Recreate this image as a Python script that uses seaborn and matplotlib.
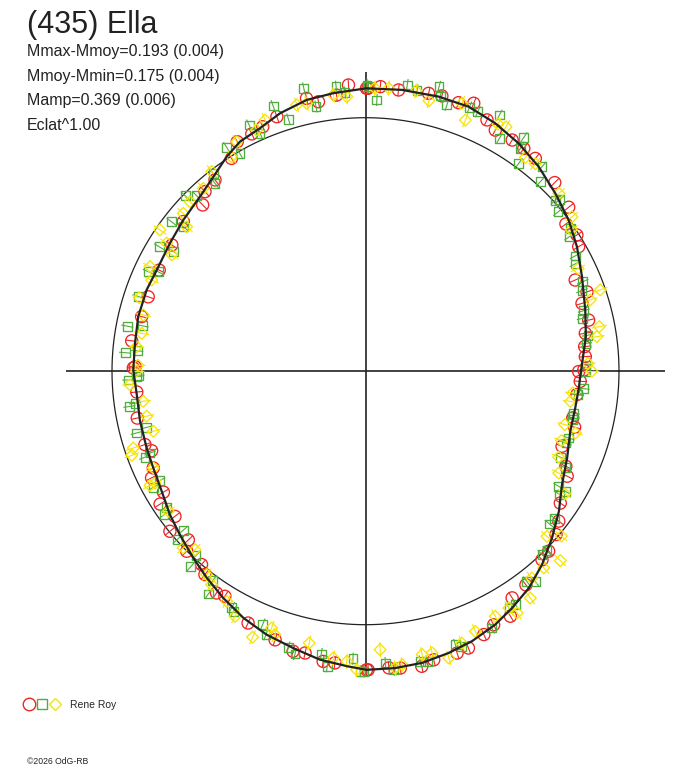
import matplotlib

matplotlib.use("Agg")

import matplotlib.pyplot as plt
import seaborn as sns
import numpy as np
from matplotlib.legend_handler import HandlerTuple
from matplotlib.lines import Line2D

# ------------------------------------------------------------
# data: rotational phase (as angle, degrees) and relative flux
# ------------------------------------------------------------
curve_angle = [0.0, 8.9, 15.6, 23.6, 30.5, 36.7, 43.1, 49.7, 56.1, 62.4, 68.7, 75.1,
               82.6, 89.8, 96.6, 102.2, 108.3, 113.5, 118.7, 122.9, 128.0, 133.5,
               140.3, 146.8, 154.1, 159.6, 166.5, 173.1, 179.7, 185.9, 192.5, 199.3,
               204.5, 210.5, 216.3, 221.4, 227.3, 232.5, 237.9, 243.7, 249.4, 255.4,
               261.0, 266.4, 270.2, 275.7, 281.0, 286.4, 291.5, 297.1, 301.7, 307.0,
               312.4, 318.2, 324.1, 330.0, 336.7, 343.6, 350.1, 355.5]
curve_flux = [0.850, 0.880, 0.900, 0.932, 0.968, 0.999, 1.026, 1.057, 1.083, 1.104, 1.120, 1.121,
              1.119, 1.116, 1.104, 1.095, 1.072, 1.045, 1.032, 1.008, 0.974, 0.949,
              0.934, 0.922, 0.915, 0.921, 0.922, 0.916, 0.916, 0.907, 0.911, 0.915,
              0.920, 0.933, 0.957, 0.976, 1.002, 1.028, 1.056, 1.086, 1.110, 1.129,
              1.152, 1.166, 1.178, 1.177, 1.172, 1.159, 1.145, 1.123, 1.099, 1.071,
              1.033, 0.987, 0.942, 0.895, 0.866, 0.842, 0.840, 0.844]

red_angle = [93.4, 89.8, 96.0, 102.2, 99.9, 109.2, 112.8, 115.6, 119.2, 122.2, 128.2, 131.8,
             134.4, 140.6, 146.9, 153.9, 161.1, 166.3, 172.6, 178.9,
             89.5, 87.0, 83.3, 77.2, 74.5, 70.9, 68.0, 64.2, 61.7, 57.6, 54.6, 51.4,
             44.9, 38.9, 36.3, 32.8, 30.3, 23.5, 19.7, 17.4, 12.9, 9.8, 6.4, 3.8, 0.3,
             179.2, 185.2, 191.6, 198.4, 200.4, 204.5, 206.5, 210.9, 212.9, 217.3, 219.3,
             223.6, 225.2, 229.7, 231.7, 236.1, 238.0, 245.0, 251.4, 255.5, 257.9, 261.7,
             264.0, 270.2,
             359.9, 357.3, 353.7, 347.3, 345.0, 339.1, 334.6, 332.5, 325.9, 322.2, 319.4,
             315.5, 313.1, 306.9, 302.9, 300.6, 296.8, 294.2, 290.4, 288.0, 283.3, 280.8,
             276.7, 274.5, 270.5]
red_flux = [1.131, 1.116, 1.095, 1.101, 1.079, 1.063, 1.046, 1.038, 1.037, 0.992, 0.960, 0.950,
            0.918, 0.930, 0.912, 0.906, 0.906, 0.909, 0.930, 0.909,
            1.116, 1.124, 1.117, 1.124, 1.127, 1.121, 1.140, 1.101, 1.080, 1.080, 1.078, 1.074,
            1.054, 1.030, 0.981, 0.992, 0.974, 0.902, 0.928, 0.895, 0.903, 0.880, 0.870, 0.869, 0.861,
            0.916, 0.906, 0.919, 0.917, 0.900, 0.920, 0.943, 0.929, 0.965, 0.945, 0.997,
            0.965, 1.001, 1.000, 1.022, 1.054, 1.047, 1.096, 1.118, 1.141, 1.137, 1.157,
            1.157, 1.178,
            0.841, 0.848, 0.839, 0.838, 0.854, 0.830, 0.875, 0.897, 0.928, 0.965, 0.990,
            1.013, 1.019, 1.054, 1.065, 1.123, 1.121, 1.139, 1.165, 1.169, 1.170, 1.185,
            1.179, 1.174, 1.178]

green_angle = [102.3, 95.9, 94.2, 89.4, 109.2, 107.0, 100.6, 115.3, 113.9, 121.8, 120.0, 127.6,
               128.7, 135.8, 133.9, 142.4, 141.6, 148.9, 148.1, 155.4, 154.4, 161.8, 169.3,
               168.5, 175.6, 174.9, 181.0,
               89.7, 87.6, 81.7, 79.6, 75.5, 74.8, 73.0, 68.5, 66.6, 62.4, 60.1, 55.9, 55.2,
               53.6, 49.2, 47.3, 42.0, 41.5, 39.6, 34.9, 33.4, 28.8, 27.1, 22.4, 20.4, 15.5,
               13.7, 9.2, 7.2, 1.6,
               182.1, 181.3, 188.5, 187.9, 195.1, 194.4, 201.3, 200.8, 208.0, 208.7, 214.5,
               215.5, 221.1, 221.8, 227.4, 228.2, 233.9, 234.8, 240.5, 241.2, 247.9, 249.3,
               254.4, 256.0, 261.1, 262.6, 267.5, 269.0,
               0.0, 355.4, 353.7, 348.6, 346.8, 341.8, 340.3, 336.2, 334.2, 329.2, 329.0,
               327.6, 322.1, 320.3, 313.9, 315.3, 307.5, 308.9, 301.2, 302.7, 296.2, 288.2,
               289.3, 280.7, 282.0, 275.4, 273.9, 269.7]
green_flux = [1.142, 1.128, 1.102, 1.122, 1.108, 1.039, 1.062, 1.074, 1.027, 1.039, 0.990, 0.985,
              0.950, 0.992, 0.960, 0.966, 0.917, 0.950, 0.893, 0.942, 0.907, 0.943, 0.956,
              0.897, 0.951, 0.904, 0.896,
              1.129, 1.071, 1.141, 1.125, 1.159, 1.125, 1.098, 1.119, 1.116, 1.140, 1.060, 1.114, 1.071,
              1.019, 1.066, 1.017, 1.008, 1.020, 0.986, 0.985, 0.963, 0.944, 0.929, 0.927, 0.911, 0.893,
              0.882, 0.889, 0.877, 0.870,
              0.936, 0.903, 0.942, 0.918, 0.935, 0.891, 0.934, 0.909, 0.919, 0.954, 0.952,
              0.976, 0.954, 0.996, 0.988, 1.035, 1.023, 1.076, 1.071, 1.081, 1.077, 1.111,
              1.131, 1.150, 1.129, 1.174, 1.135, 1.184,
              0.867, 0.863, 0.843, 0.838, 0.839, 0.844, 0.840, 0.840, 0.876, 0.887, 0.921,
              0.905, 0.946, 0.943, 1.004, 1.007, 1.045, 1.066, 1.092, 1.094, 1.129, 1.136,
              1.150, 1.165, 1.170, 1.183, 1.154, 1.184]

yellow_angle = [104.5, 102.4, 93.9, 96.6, 111.8, 114.3, 119.3, 122.0, 127.6, 131.6, 136.0, 139.1,
                141.1, 145.5, 147.2, 149.0, 154.1, 156.9, 162.0, 165.8, 170.4, 173.9, 178.5,
                88.1, 85.3, 79.8, 76.8, 70.2, 68.3, 61.8, 60.1, 53.2, 50.7, 42.6, 36.8, 34.5,
                25.8, 19.1, 17.6, 10.8, 8.5, 2.0,
                183.3, 180.0, 187.7, 191.6, 195.8, 198.3, 199.8, 204.5, 208.0, 207.9, 215.4,
                224.1, 226.3, 232.0, 234.2, 238.9, 242.0, 247.0, 249.9, 251.0, 258.3, 263.6,
                266.3, 268.3,
                0.0, 354.0, 351.6, 345.0, 340.5, 343.6, 336.0, 332.2, 328.4, 317.7, 319.9,
                315.8, 312.2, 308.8, 306.0, 301.2, 302.1, 297.9, 292.9, 289.5, 286.2, 283.3,
                281.3, 277.1, 273.0, 275.7]
yellow_flux = [1.085, 1.082, 1.085, 1.097, 1.067, 1.044, 1.038, 0.997, 0.994, 0.964, 0.962, 0.951,
               0.907, 0.984, 0.933, 0.891, 0.945, 0.917, 0.938, 0.904, 0.895, 0.908, 0.898,
               1.117, 1.120, 1.124, 1.096, 1.123, 1.066, 1.106, 1.112, 1.053, 1.057, 1.036, 1.017, 0.985,
               0.931, 0.980, 0.930, 0.939, 0.923, 0.878,
               0.931, 0.903, 0.885, 0.881, 0.870, 0.965, 0.980, 0.920, 0.940, 0.962, 0.954,
               1.002, 0.974, 1.018, 1.038, 1.060, 1.095, 1.140, 1.079, 1.099, 1.095, 1.138,
               1.147, 1.178,
               0.893, 0.822, 0.817, 0.814, 0.820, 0.863, 0.834, 0.862, 0.923, 0.968, 1.010,
               1.072, 1.047, 1.047, 1.106, 1.092, 1.126, 1.094, 1.114, 1.138, 1.178, 1.142,
               1.140, 1.167, 1.100, 1.177]

# photometric error of each session (relative flux)
red_err = 0.024
green_err = 0.024
yellow_err = 0.030

title = "(435) Ella"
info_lines = ["Mmax-Mmoy=0.193 (0.004)", "Mmoy-Mmin=0.175 (0.004)",
              "Mamp=0.369 (0.006)", "Eclat^1.00"]
observer = "Rene Roy"
footer = "\u00a92026 OdG-RB"

RED = "#ee2424"
GREEN = "#4fae3c"
YELLOW = "#f7e400"
INK = "#222222"

sns.set_style("white")
plt.rcParams["font.family"] = ["Liberation Sans", "DejaVu Sans"]

W, H = 688, 768
fig = plt.figure(figsize=(W / 100, H / 100), dpi=100)

# polar axes: centre at (365.5, 371.2) px, unit circle = 253.5 px
R_MAX = 1.25
rad = R_MAX * 253.5
cx, cy = 365.5, H - 371.2
ax = fig.add_axes([(cx - rad) / W, (cy - rad) / H, 2 * rad / W, 2 * rad / H],
                  projection="polar")
ax.set_ylim(0, R_MAX)
ax.grid(False)
ax.set_xticks([])
ax.set_yticks([])
ax.spines["polar"].set_visible(False)
ax.set_facecolor("none")

# cross and mean-brightness circle
ax.vlines(np.deg2rad([0, 90, 180, 270]), 0, 1.18, colors=INK, linewidth=1.2, zorder=1)
ring = np.linspace(0, 2 * np.pi, 720)
ax.plot(ring, np.ones_like(ring), color=INK, linewidth=0.9, zorder=1)

series = [
    (red_angle, red_flux, red_err, RED, "o", 76),
    (green_angle, green_flux, green_err, GREEN, "s", 40),
    (yellow_angle, yellow_flux, yellow_err, YELLOW, "D", 36),
]
for ang, flux, err, col, mk, size in series:
    th = np.deg2rad(ang)
    fl = np.asarray(flux)
    ax.vlines(th, fl - err, fl + err, colors=col, linewidth=0.8, zorder=2)
    sns.scatterplot(x=th, y=fl, ax=ax, marker=mk, s=size, color=col,
                    facecolors="none", edgecolor=col, linewidth=0.95,
                    legend=False, zorder=2)

# fitted lightcurve
cth = np.deg2rad(curve_angle + curve_angle[:1])
ax.plot(cth, curve_flux + curve_flux[:1], color=INK, linewidth=1.6, zorder=3)
ax.set_xlabel("")
ax.set_ylabel("")

# texts
fig.text(27 / W, 1 - 33 / H, title, fontsize=22, color=INK, va="baseline")
for i, line in enumerate(info_lines):
    fig.text(27 / W, 1 - (56 + 24.7 * i) / H, line, fontsize=11.5, color=INK, va="baseline")

h_red = Line2D([], [], ls="none", marker="o", mfc="none", mec=RED, ms=9, mew=1.0)
h_green = Line2D([], [], ls="none", marker="s", mfc="none", mec=GREEN, ms=7, mew=1.0)
h_yellow = Line2D([], [], ls="none", marker="D", mfc="none", mec=YELLOW, ms=6, mew=1.0)
fig.legend(handles=[(h_red, h_green, h_yellow)], labels=[observer],
           handler_map={tuple: HandlerTuple(ndivide=None, pad=0.25)},
           loc="center left", bbox_to_anchor=(14 / W, 1 - 705 / H),
           frameon=False, fontsize=7.5, handlelength=3.6, handletextpad=0.9)

fig.text(27 / W, 1 - 764 / H, footer, fontsize=6.2, color=INK, va="baseline")

fig.savefig("out.png", dpi=100)
plt.close(fig)
